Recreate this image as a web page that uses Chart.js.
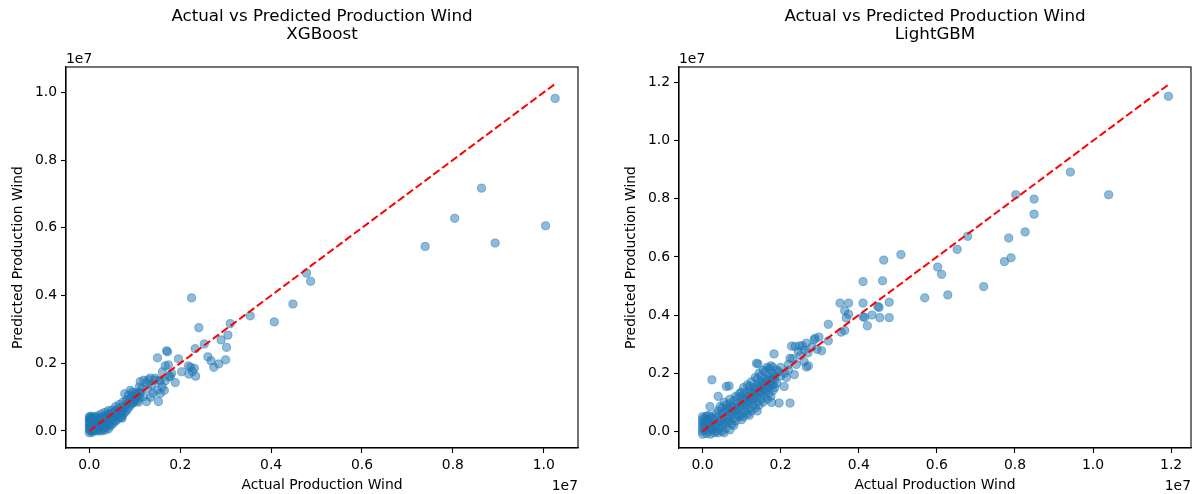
<!DOCTYPE html>
<html>
<head>
<meta charset="utf-8">
<title>Actual vs Predicted Production Wind</title>
<script src="https://cdn.jsdelivr.net/npm/chart.js@4.4.0/dist/chart.umd.min.js"></script>
<style>
  html, body { margin: 0; padding: 0; background: #fff; }
  #wrap { position: relative; width: 1192px; height: 494px; overflow: hidden; }
  .panel { position: absolute; top: 0; width: 596px; height: 494px; }
</style>
</head>
<body>
<div id="wrap">
  <div class="panel" style="left:0"><canvas id="xgb"></canvas></div>
  <div class="panel" style="left:613px"><canvas id="lgbm"></canvas></div>
</div>
<script>
// values are in millions (axis shows them x1e7)
const UNIT = 1e6;

// XGBoost: [actual, predicted]
const xgbPoints = [
  [0.00,0.05],[0.00,0.12],[0.00,0.20],[0.00,0.28],[0.00,0.35],[0.00,0.42],[0.00,-0.05],[0.02,0.00],
  [0.02,0.08],[0.02,0.16],[0.02,0.24],[0.02,0.32],[0.02,0.40],[0.04,0.02],[0.04,0.10],[0.04,0.18],
  [0.04,0.26],[0.04,0.34],[0.04,0.44],[0.06,-0.04],[0.06,0.06],[0.06,0.14],[0.06,0.22],[0.06,0.30],
  [0.06,0.38],[0.08,0.00],[0.08,0.12],[0.08,0.25],[0.08,0.36],[0.10,0.04],[0.10,0.15],[0.10,0.28],
  [0.10,0.42],[0.12,0.08],[0.12,0.20],[0.12,0.33],[0.14,0.02],[0.14,0.14],[0.14,0.26],[0.14,0.40],
  [0.18,0.00],[0.18,0.10],[0.18,0.22],[0.18,0.34],[0.18,0.45],[0.22,0.03],[0.22,0.15],[0.22,0.28],
  [0.22,0.40],[0.26,0.00],[0.26,0.12],[0.26,0.24],[0.26,0.36],[0.26,0.50],[0.30,0.05],[0.30,0.18],
  [0.30,0.30],[0.30,0.42],[0.34,0.02],[0.34,0.14],[0.34,0.26],[0.34,0.38],[0.34,0.55],[0.38,0.10],
  [0.38,0.22],[0.38,0.34],[0.38,0.48],[0.42,0.06],[0.42,0.18],[0.42,0.30],[0.42,0.44],[0.42,0.60],
  [0.46,0.15],[0.46,0.28],[0.46,0.40],[0.46,0.52],[0.50,0.20],[0.50,0.35],[0.50,0.48],[0.50,0.62],
  [0.54,0.25],[0.54,0.40],[0.54,0.55],[0.58,0.30],[0.58,0.45],[0.58,0.60],[0.58,0.72],[0.62,0.35],
  [0.62,0.50],[0.62,0.65],[0.66,0.42],[0.66,0.58],[0.66,0.78],[0.70,0.40],[0.70,0.55],[0.70,0.70],
  [0.72,0.38],[0.74,0.48],[0.74,0.62],[0.74,0.85],[0.78,0.55],[0.78,0.70],[0.78,1.10],[0.82,0.60],
  [0.82,0.78],[0.82,0.92],[0.86,0.68],[0.86,0.85],[0.86,1.05],[0.90,0.75],[0.90,0.95],[0.90,1.20],
  [0.94,0.82],[0.94,1.00],[0.95,1.15],[0.98,0.88],[0.98,1.08],[1.02,0.95],[1.02,1.12],[1.04,1.02],
  [0.97,0.83],[1.06,0.90],[1.06,1.05],[1.08,0.85],[1.10,1.00],[1.10,1.15],[1.10,1.30],[1.12,1.11],
  [1.19,1.01],[1.26,0.87],[1.12,1.46],[1.15,1.25],[1.20,1.50],[1.26,1.42],[1.28,1.25],[1.30,1.51],
  [1.34,1.56],[1.35,1.00],[1.37,1.36],[1.40,1.11],[1.44,1.50],[1.45,1.56],[1.49,1.21],[1.52,0.87],
  [1.55,1.50],[1.56,1.11],[1.56,1.46],[1.60,1.30],[1.61,1.75],[1.65,1.20],[1.67,1.48],[1.67,1.92],
  [1.70,2.37],[1.72,2.34],[1.74,1.95],[1.75,1.60],[1.78,1.61],[1.81,1.70],[1.50,2.16],[1.89,1.43],
  [1.96,2.13],[2.03,1.75],[2.18,1.92],[2.19,1.68],[2.23,1.88],[2.27,1.76],[2.31,1.85],[2.34,1.62],
  [2.25,3.93],[2.41,3.05],[2.33,2.43],[2.53,2.57],[2.61,2.19],[2.68,2.07],[2.74,1.88],[2.85,1.98],
  [2.90,2.69],[3.00,2.10],[3.02,2.47],[3.05,2.83],[3.10,3.17],[3.54,3.40],[4.07,3.22],[4.48,3.75],
  [4.78,4.66],[4.87,4.42],[7.39,5.45],[8.04,6.28],[8.63,7.17],[8.93,5.55],[10.04,6.06],[10.25,9.82]
];

// LightGBM: [actual, predicted]
const lgbmPoints = [
  [0.00,0.00],[0.00,0.10],[0.00,0.20],[0.00,0.30],[0.00,0.40],[0.00,0.50],[0.00,-0.10],[0.05,0.05],
  [0.05,0.25],[0.05,0.45],[0.10,-0.08],[0.10,0.12],[0.10,0.32],[0.10,0.52],[0.15,0.00],[0.15,0.20],
  [0.15,0.40],[0.15,0.55],[0.20,-0.10],[0.20,0.10],[0.20,0.30],[0.20,0.50],[0.25,0.05],[0.25,0.25],
  [0.25,0.45],[0.30,-0.05],[0.30,0.15],[0.30,0.40],[0.35,0.00],[0.35,0.20],[0.35,0.60],[0.40,-0.05],
  [0.55,-0.05],[0.70,0.05],[0.60,0.10],[0.80,0.20],[1.00,0.40],[1.20,0.55],[1.40,0.70],
  [0.40,0.10],[0.40,0.30],[0.40,0.50],[0.40,0.70],[0.45,0.35],[0.45,0.85],[0.50,0.00],[0.50,0.20],
  [0.50,0.40],[0.50,0.60],[0.50,0.80],[0.55,0.25],[0.55,0.65],[0.55,1.00],[0.60,0.30],[0.60,0.50],
  [0.60,0.70],[0.60,0.90],[0.65,0.40],[0.65,0.80],[0.70,0.35],[0.70,0.55],[0.70,0.75],[0.70,0.95],
  [0.70,1.10],[0.75,0.25],[0.75,0.65],[0.75,0.85],[0.80,0.45],[0.80,0.65],[0.80,0.85],[0.80,1.05],
  [0.85,0.35],[0.85,0.75],[0.85,1.20],[0.90,0.55],[0.90,0.75],[0.90,0.95],[0.90,1.15],[0.95,0.50],
  [0.95,0.85],[0.95,1.30],[1.00,0.60],[1.00,0.80],[1.00,1.00],[1.00,1.20],[1.00,1.35],[1.05,0.50],
  [1.05,0.90],[1.05,1.10],[1.05,1.50],[1.10,0.70],[1.10,0.90],[1.10,1.10],[1.10,1.30],[1.15,0.60],
  [1.15,1.00],[1.15,1.20],[1.15,1.60],[1.20,0.80],[1.20,1.00],[1.20,1.20],[1.20,1.40],[1.20,1.55],
  [1.25,0.70],[1.25,1.10],[1.25,1.35],[1.25,1.70],[1.30,0.90],[1.30,1.10],[1.30,1.30],[1.30,1.50],
  [1.35,0.80],[1.35,1.20],[1.35,1.45],[1.35,1.85],[1.40,1.00],[1.40,1.20],[1.40,1.40],[1.40,1.60],
  [1.40,1.80],[1.45,0.90],[1.45,1.35],[1.45,1.55],[1.45,2.00],[1.50,1.10],[1.50,1.30],[1.50,1.50],
  [1.50,1.70],[1.50,1.90],[1.55,1.00],[1.55,1.40],[1.55,1.65],[1.55,2.10],[1.60,1.20],[1.60,1.40],
  [1.60,1.60],[1.60,1.80],[1.60,2.05],[1.65,1.10],[1.65,1.50],[1.65,1.75],[1.65,2.20],[1.70,1.30],
  [1.70,1.50],[1.70,1.70],[1.70,1.90],[1.70,2.15],[1.75,1.20],[1.75,1.60],[1.75,1.85],[1.75,2.25],
  [1.80,1.40],[1.80,1.60],[1.80,1.80],[1.80,2.00],[1.80,2.20],[1.85,1.50],[1.85,1.90],[1.90,1.65],
  [1.95,2.05],
  [0.19,0.85],[0.40,1.20],[0.24,1.77],[0.61,1.54],[0.68,1.56],[1.42,2.32],[1.38,2.34],[1.77,0.99],
  [1.96,0.97],[2.24,0.97],[2.09,1.54],[1.85,1.77],[1.83,2.66],[1.90,2.10],[2.00,1.90],[2.00,2.20],
  [2.10,2.00],[2.15,1.85],[2.20,2.10],[2.20,2.30],[2.24,2.51],[2.28,2.93],[2.30,2.50],[2.35,1.95],
  [2.37,2.92],[2.40,2.30],[2.45,2.75],[2.49,2.94],[2.50,2.60],[2.56,2.94],[2.60,2.40],[2.60,2.80],
  [2.66,2.21],[2.66,3.03],[2.70,2.70],[2.71,2.25],[2.80,2.90],[2.86,3.15],[2.88,3.20],[2.93,2.82],
  [2.98,3.24],[3.05,2.77],[3.22,3.11],[3.22,3.68],[3.52,4.41],[3.55,3.41],[3.64,3.47],[3.64,4.15],
  [3.68,3.90],[3.74,4.03],[3.74,4.41],[4.11,3.94],[4.11,4.41],[4.11,5.15],[4.15,3.92],[4.22,3.63],
  [4.34,4.00],[4.49,4.29],[4.52,4.26],[4.54,3.91],[4.61,5.18],[4.64,5.89],[4.78,3.91],[4.78,4.44],
  [5.08,6.08],[5.69,4.59],[6.02,5.65],[6.12,5.40],[6.28,4.69],[6.52,6.26],[6.79,6.71],[7.20,4.98],
  [7.73,5.84],[7.84,6.65],[7.90,5.97],[8.02,8.14],[8.26,6.86],[8.49,7.47],[8.49,7.99],[9.42,8.92],
  [10.40,8.14],[11.93,11.53]
];

// axis limits (x1e7)
const xgbLimits = { x: [-0.0513e7, 1.0753e7], y: [-0.0502e7, 1.0747e7] };
const lgbmLimits = { x: [-0.0603e7, 1.2508e7], y: [-0.0577e7, 1.2536e7] };

// tick positions, in units of 1e7
const xgbTicks = [0, 0.2, 0.4, 0.6, 0.8, 1.0];
const lgbmTicks = [0, 0.2, 0.4, 0.6, 0.8, 1.0, 1.2];

const FONT = "'DejaVu Sans', sans-serif";
const BLUE = 'rgba(31,119,180,0.5)';

// spines on all four sides, two-line title, and the 1e7 offset labels
const framePlugin = {
  id: 'frame',
  afterDraw(chart, args, opts) {
    const { ctx, chartArea: a } = chart;
    ctx.save();
    ctx.strokeStyle = '#000';
    ctx.lineWidth = 1.1;
    ctx.strokeRect(a.left, a.top, a.right - a.left, a.bottom - a.top);
    ctx.fillStyle = '#000';
    ctx.font = '16.7px ' + FONT;
    ctx.textAlign = 'center';
    ctx.textBaseline = 'middle';
    const cx = (a.left + a.right) / 2;
    ctx.fillText(opts.lines[0], cx, 17);
    ctx.fillText(opts.lines[1], cx, 35);
    ctx.font = '13.9px ' + FONT;
    ctx.textAlign = 'left';
    ctx.textBaseline = 'alphabetic';
    ctx.fillText('1e7', a.left, a.top - 4.5);
    ctx.textAlign = 'right';
    ctx.textBaseline = 'top';
    ctx.fillText('1e7', a.right, a.bottom + 31);
    ctx.restore();
  }
};

function axis(limits, ticks, titleText, horizontal) {
  return {
    type: 'linear',
    position: horizontal ? 'bottom' : 'left',
    min: limits[0],
    max: limits[1],
    afterFit: s => { if (horizontal) s.height = 46; else s.width = 66; },
    afterBuildTicks: s => { s.ticks = ticks.map(t => ({ value: t * 1e7 })); },
    ticks: {
      autoSkip: false,
      maxRotation: 0,
      padding: 4,
      color: '#000',
      font: { family: FONT, size: 13.9 },
      callback: v => (v / 1e7).toFixed(1)
    },
    grid: { drawOnChartArea: false, tickLength: 5, tickColor: '#000', tickWidth: 1.1 },
    border: { color: '#000', width: 1.1 },
    title: {
      display: true,
      text: titleText,
      color: '#000',
      font: { family: FONT, size: 13.9 },
      padding: horizontal ? { top: 0, bottom: 0 } : { top: 10, bottom: 0 }
    }
  };
}

function makeChart(id, model, points, limits, ticks) {
  const actual = points.map(p => p[0]);
  const lo = Math.min(...actual) * UNIT;
  const hi = Math.max(...actual) * UNIT;

  return new Chart(document.getElementById(id), {
    type: 'scatter',
    data: {
      datasets: [
        {
          // perfect prediction line
          data: [{ x: lo, y: lo }, { x: hi, y: hi }],
          showLine: true,
          borderColor: 'red',
          borderWidth: 2,
          borderDash: [7.7, 3.3],
          pointRadius: 0,
          fill: false,
          order: 0
        },
        {
          data: points.map(p => ({ x: p[0] * UNIT, y: p[1] * UNIT })),
          backgroundColor: BLUE,
          borderColor: BLUE,
          borderWidth: 1,
          pointRadius: 4.1,
          order: 1
        }
      ]
    },
    options: {
      responsive: true,
      maintainAspectRatio: false,
      animation: false,
      layout: { padding: { left: 0, top: 67, right: 18, bottom: 0 } },
      scales: {
        x: axis(limits.x, ticks, 'Actual Production Wind', true),
        y: axis(limits.y, ticks, 'Predicted Production Wind', false)
      },
      plugins: {
        legend: { display: false },
        tooltip: { enabled: false },
        frame: { lines: ['Actual vs Predicted Production Wind', model] }
      }
    },
    plugins: [framePlugin]
  });
}

makeChart('xgb', 'XGBoost', xgbPoints, xgbLimits, xgbTicks);
makeChart('lgbm', 'LightGBM', lgbmPoints, lgbmLimits, lgbmTicks);
</script>
</body>
</html>
